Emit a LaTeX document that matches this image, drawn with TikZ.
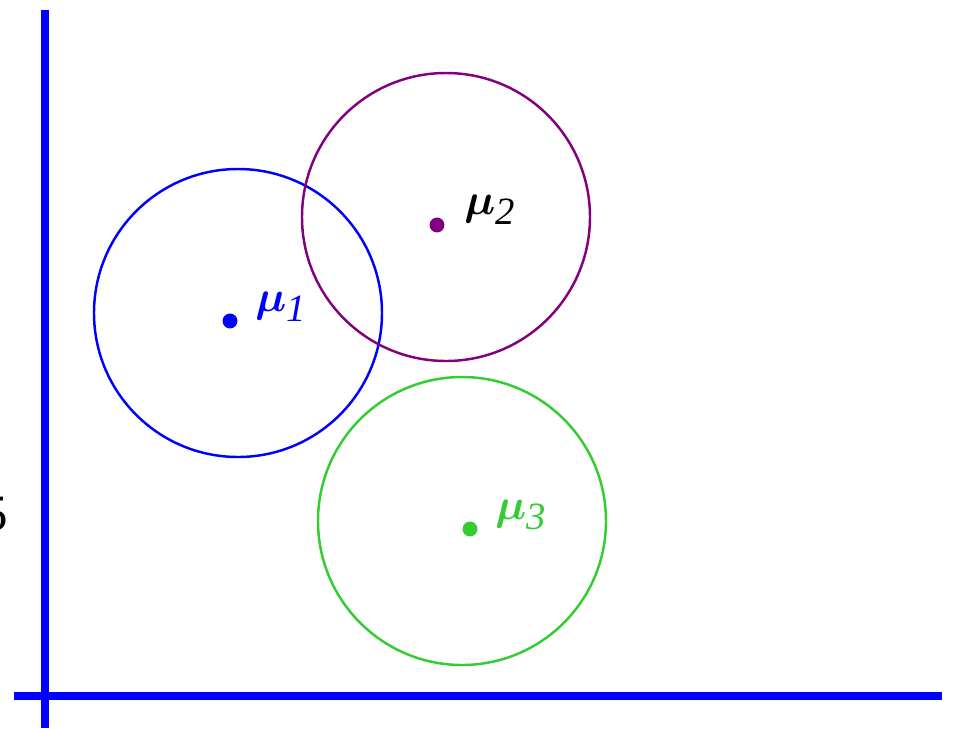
\documentclass[tikz,border=0pt]{standalone}
\usepackage{bm}
\usepackage{fontspec}
\setmainfont{Liberation Serif}
\usetikzlibrary{positioning}
\definecolor{mBlue}{HTML}{0000FF}
\definecolor{mPurple}{HTML}{800080}
\definecolor{mGreen}{HTML}{33CC33}
\newcommand{\mulbl}[1]{\fontsize{33}{36}\selectfont$\bm{\mu}$\raisebox{-6pt}{\fontsize{22}{24}\selectfont\itshape #1}}

\begin{document}
\begin{tikzpicture}[x=0.02cm, y=-0.02cm,
    axis/.style={mBlue, line width=4.5pt},
    ring/.style={line width=1.4pt},
    centre/.style={circle, fill, inner sep=0pt, minimum size=8.5pt},
    mulabel/.style={anchor=base west, inner sep=0pt}]
  \useasboundingbox (0,0) rectangle (954,728);
  % clusters: ring centre, mean point
  \foreach \name/\col/\cx/\cy/\dx/\dy in
      {one/mBlue/238/313/230/321,
       two/mPurple/446/217/437/225,
       three/mGreen/462/521/470/529} {
    \draw[ring, \col] (\cx,\cy) circle[radius=144];
    \node[centre, \col] (m-\name) at (\dx,\dy) {};
  }
  \node[mulabel, mBlue] (l-one) at (255,311) {\mulbl{1}};
  \node[mulabel, black] (l-two) at (464,214) {\mulbl{2}};
  \node[mulabel, mGreen] (l-three) at (495,519) {\mulbl{3}};
  % axes
  \coordinate (y-top) at (45,10);
  \coordinate (y-bot) at (45,728);
  \coordinate (x-left) at (14,696);
  \coordinate (x-right) at (942,696);
  \draw[axis] (y-top) -- (y-bot);
  \draw[axis] (x-left) -- (x-right);
  % cut-off tick label at the left border
  \node[anchor=base east, inner sep=0pt, font=\fontsize{29}{32}\selectfont] (tick) at (8,530) {5};
\end{tikzpicture}
\end{document}
